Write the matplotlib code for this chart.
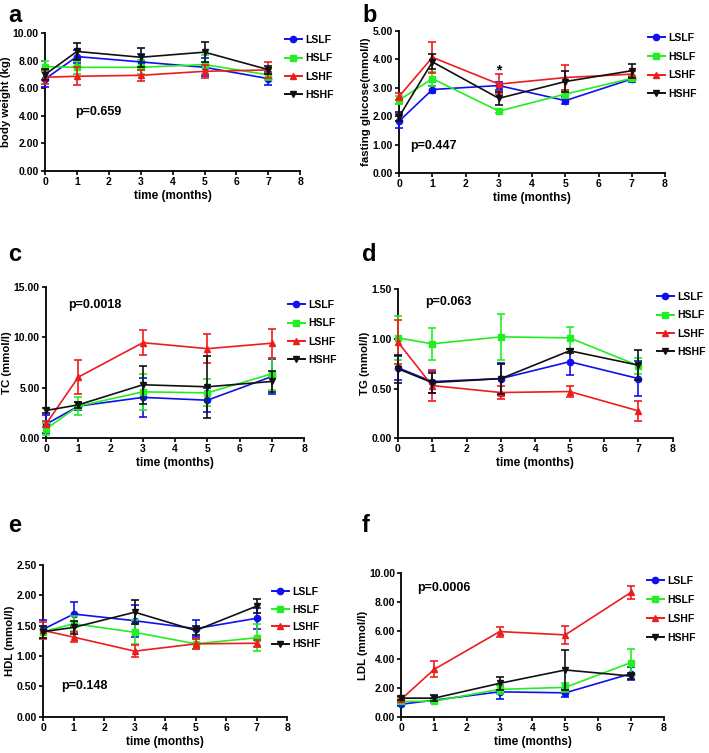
import matplotlib
matplotlib.use("Agg")
import matplotlib.pyplot as plt
from matplotlib.lines import Line2D
import numpy as np

plt.rcParams['font.family'] = ['Liberation Sans', 'DejaVu Sans']
plt.rcParams['font.weight'] = 'bold'
plt.rcParams['axes.labelweight'] = 'bold'

times = [0, 1, 3, 5, 7]
groups = ['LSLF', 'HSLF', 'LSHF', 'HSHF']
colors = ['#1010ee', '#22ee22', '#ee1c1c', '#111111']
markers = ['o', 's', '^', 'v']

# a: body weight (kg)
bw_mean = [[6.67, 8.30, 7.91, 7.52, 6.70],
           [7.57, 7.52, 7.52, 7.72, 6.97],
           [6.80, 6.87, 6.94, 7.23, 7.33],
           [6.99, 8.67, 8.25, 8.62, 7.35]]
bw_err = [[0.60, 0.45, 0.60, 0.65, 0.50],
          [0.40, 0.45, 0.50, 0.70, 0.40],
          [0.50, 0.65, 0.40, 0.45, 0.55],
          [0.40, 0.62, 0.70, 0.72, 0.30]]

# b: fasting glucose (mmol/l)
glu_mean = [[1.83, 2.94, 3.08, 2.55, 3.31],
            [2.57, 3.32, 2.18, 2.78, 3.33],
            [2.70, 4.07, 3.13, 3.36, 3.48],
            [1.99, 3.91, 2.63, 3.22, 3.60]]
glu_err = [[0.25, 0.12, 0.14, 0.12, 0.10],
           [0.15, 0.25, 0.08, 0.15, 0.10],
           [0.12, 0.54, 0.35, 0.44, 0.10],
           [0.15, 0.26, 0.23, 0.37, 0.25]]

# c: TC (mmol/l)
tc_mean = [[1.39, 3.18, 4.05, 3.77, 6.12],
           [0.93, 3.18, 4.60, 4.50, 6.39],
           [1.42, 6.06, 9.47, 8.88, 9.42],
           [2.75, 3.31, 5.30, 5.10, 5.63]]
tc_err = [[0.90, 0.40, 1.90, 1.20, 1.75],
          [0.60, 0.90, 1.80, 1.35, 1.60],
          [0.30, 1.70, 1.25, 1.42, 1.45],
          [0.25, 0.30, 1.90, 3.10, 1.00]]

# d: TG (mmol/l)
tg_mean = [[0.71, 0.57, 0.60, 0.77, 0.60],
           [1.01, 0.95, 1.02, 1.01, 0.73],
           [0.97, 0.53, 0.46, 0.47, 0.275],
           [0.70, 0.56, 0.60, 0.88, 0.735]]
tg_err = [[0.12, 0.11, 0.16, 0.13, 0.18],
          [0.22, 0.16, 0.23, 0.11, 0.08],
          [0.22, 0.16, 0.07, 0.06, 0.10],
          [0.14, 0.10, 0.15, 0.02, 0.15]]

# e: HDL (mmol/l)
hdl_mean = [[1.44, 1.69, 1.58, 1.45, 1.62],
            [1.40, 1.53, 1.39, 1.20, 1.30],
            [1.42, 1.31, 1.08, 1.20, 1.21],
            [1.40, 1.47, 1.72, 1.42, 1.82]]
hdl_err = [[0.15, 0.20, 0.26, 0.14, 0.17],
           [0.10, 0.12, 0.20, 0.08, 0.22],
           [0.14, 0.08, 0.10, 0.08, 0.06],
           [0.10, 0.10, 0.20, 0.08, 0.11]]

# f: LDL (mmol/l)
ldl_mean = [[0.88, 1.16, 1.74, 1.67, 3.00],
            [1.07, 1.09, 1.91, 2.05, 3.77],
            [1.23, 3.30, 5.93, 5.70, 8.65],
            [1.30, 1.30, 2.33, 3.26, 2.84]]
ldl_err = [[0.15, 0.15, 0.50, 0.30, 0.45],
           [0.15, 0.15, 0.30, 0.30, 0.95],
           [0.15, 0.55, 0.35, 0.65, 0.45],
           [0.15, 0.20, 0.45, 1.38, 0.20]]

panels = [
    dict(letter='a', mean=bw_mean, err=bw_err, ylabel='body weight (kg)', ymax=10, ystep=2,
         pos=[0.0635, 0.773, 0.360, 0.183], ptxt='p=0.659', pxy=(0.94, 4.3),
         leg=(285, 41, 18.6), lx=8, ly=15),
    dict(letter='b', mean=glu_mean, err=glu_err, ylabel='fasting glucose(mmol/l)', ymax=5, ystep=1,
         pos=[0.563, 0.770, 0.375, 0.189], ptxt='p=0.447', pxy=(0.33, 0.95),
         leg=(648, 39, 19.0), lx=362, ly=15),
    dict(letter='c', mean=tc_mean, err=tc_err, ylabel='TC (mmol/l)', ymax=15, ystep=5,
         pos=[0.065, 0.418, 0.364, 0.201], ptxt='p=0.0018', pxy=(0.68, 13.2),
         leg=(288, 306, 18.7), lx=8, ly=255),
    dict(letter='d', mean=tg_mean, err=tg_err, ylabel='TG (mmol/l)', ymax=1.5, ystep=0.5,
         pos=[0.561, 0.418, 0.388, 0.198], ptxt='p=0.063', pxy=(0.79, 1.37),
         leg=(657, 298, 18.7), lx=362, ly=255),
    dict(letter='e', mean=hdl_mean, err=hdl_err, ylabel='HDL (mmol/l)', ymax=2.5, ystep=0.5,
         pos=[0.061, 0.048, 0.344, 0.202], ptxt='p=0.148', pxy=(0.59, 0.51),
         leg=(272, 593, 17.8), lx=8, ly=525),
    dict(letter='f', mean=ldl_mean, err=ldl_err, ylabel='LDL (mmol/l)', ymax=10, ystep=2,
         pos=[0.566, 0.048, 0.370, 0.191], ptxt='p=0.0006', pxy=(0.49, 8.96),
         leg=(647, 582, 19.2), lx=362, ly=525),
]

W, H = 709, 753
fig = plt.figure(figsize=(W / 100, H / 100), dpi=100)

for p in panels:
    ax = fig.add_axes(p['pos'])
    handles = []
    for gi, g in enumerate(groups):
        ax.errorbar(times, p['mean'][gi], yerr=p['err'][gi], color=colors[gi],
                    marker=markers[gi], markersize=4.5, linewidth=1.2,
                    elinewidth=1.2, capsize=3, capthick=1.2, clip_on=False,
                    zorder=3 + gi)
        handles.append(Line2D([], [], color=colors[gi], marker=markers[gi],
                              markersize=4.5, linewidth=1.4))
    ax.set_xlim(0, 8)
    ax.set_ylim(0, p['ymax'])
    ax.set_xticks(range(0, 9))
    yt = np.arange(0, p['ymax'] + 1e-9, p['ystep'])
    ax.set_yticks(yt)
    ax.set_yticklabels(['%.2f' % v for v in yt])
    for s in ['top', 'right']:
        ax.spines[s].set_visible(False)
    for s in ['left', 'bottom']:
        ax.spines[s].set_linewidth(1.3)
    ax.tick_params(direction='out', length=3, width=1.2, labelsize=7.5, pad=1.5)
    for lab in ax.get_xticklabels() + ax.get_yticklabels():
        lab.set_fontweight('bold')
    ax.set_xlabel('time (months)', fontsize=8.5, fontweight='bold', labelpad=2)
    ax.set_ylabel(p['ylabel'], fontsize=8.2, fontweight='bold', labelpad=1)
    ax.text(p['pxy'][0], p['pxy'][1], p['ptxt'], fontsize=9, fontweight='bold',
            va='center', ha='left')
    lx, ly, sp = p['leg']
    leg = ax.legend(handles=handles, labels=groups, loc='upper left',
                    bbox_to_anchor=((lx - 3) / W, 1 - (ly - 9) / H),
                    bbox_transform=fig.transFigure, frameon=False,
                    fontsize=7.5, handlelength=1.6, handletextpad=0.35,
                    labelspacing=(sp - 10.4) / 10.4, borderaxespad=0, borderpad=0.3)
    for t in leg.get_texts():
        t.set_fontweight('bold')
    fig.text(p['lx'] / W, 1 - p['ly'] / H, p['letter'], fontsize=17, fontweight='bold',
             va='center', ha='left')

# asterisk in panel b
axb = fig.axes[1]
axb.text(3, 3.62, '*', fontsize=10, fontweight='bold', ha='center', va='center')

fig.savefig('out.png', dpi=100)
